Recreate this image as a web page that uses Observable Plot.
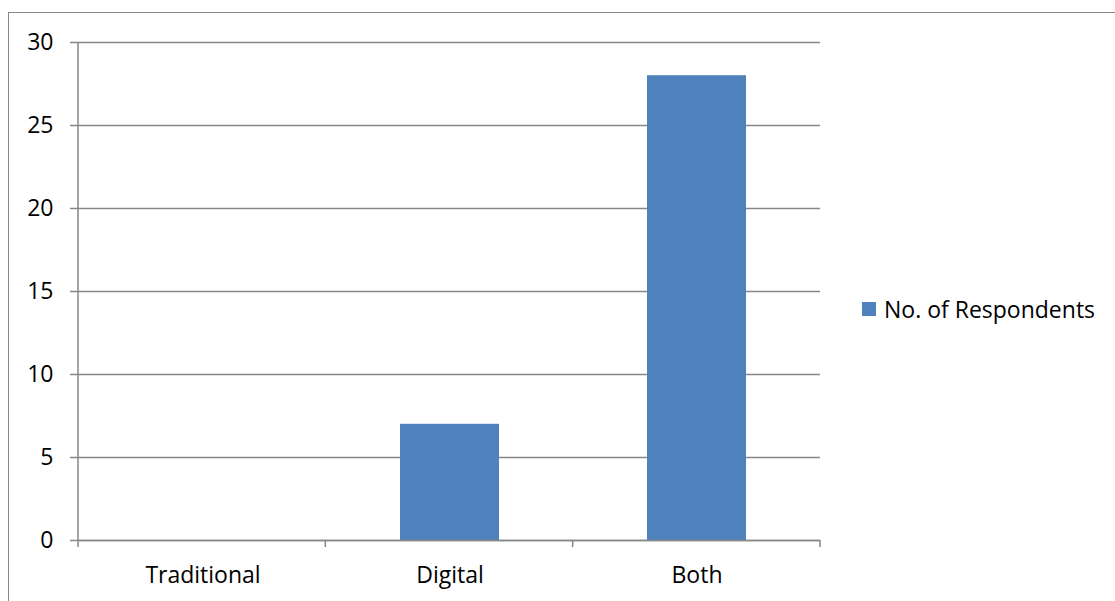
<!DOCTYPE html>
<html>
<head>
<meta charset="utf-8">
<script src="https://cdn.jsdelivr.net/npm/d3@7"></script>
<script src="https://cdn.jsdelivr.net/npm/@observablehq/plot@0.6"></script>
<style>
  html, body { margin: 0; padding: 0; background: #fff; overflow: hidden; }
  #wrap { position: relative; width: 1115px; height: 601px; }
  #frame { position: absolute; left: 8px; top: 12px; width: 1200px; height: 700px;
           border-left: 1.5px solid #888; border-top: 1.5px solid #888; box-sizing: border-box; }
  #chart { position: absolute; left: 0; top: 0; }
  #legend { position: absolute; left: 862px; top: 293px; display: flex; align-items: center;
            font-family: "Open Sans", sans-serif; font-size: 23px; color: #000; }
  #legend .sw { width: 14px; height: 14px; background: #4F81BD; margin-right: 8px; }
</style>
</head>
<body>
<div id="wrap">
  <div id="frame"></div>
  <div id="chart"></div>
  <div id="legend"><span class="sw"></span><span>No. of Respondents</span></div>
</div>
<script>
const categories = ["Traditional", "Digital", "Both"];
const respondents = [0, 7, 28];
const yTicks = [0, 5, 10, 15, 20, 25, 30];
const seriesName = "No. of Respondents";

const data = categories.map((c, i) => ({category: c, value: respondents[i]}));
const gridColor = "#878787";

// category boundary ticks and the vertical value axis line, placed from the chart frame
const frameLines = (index, scales, values, dim) => {
  const x0 = dim.marginLeft, x1 = dim.width - dim.marginRight;
  const yt = dim.marginTop, yb = dim.height - dim.marginBottom;
  const n = categories.length;
  const g = d3.create("svg:g");
  g.append("line").attr("x1", x0).attr("x2", x0).attr("y1", yt).attr("y2", yb)
    .attr("stroke", gridColor).attr("stroke-width", 1.5);
  for (let i = 0; i <= n; i++) {
    const x = x0 + (x1 - x0) * i / n;
    g.append("line").attr("x1", x).attr("x2", x).attr("y1", yb).attr("y2", yb + 7)
      .attr("stroke", gridColor).attr("stroke-width", 1.5);
  }
  return g.node();
};

const chart = Plot.plot({
  width: 1115,
  height: 601,
  marginLeft: 78,
  marginRight: 295,
  marginTop: 42,
  marginBottom: 61,
  style: {fontFamily: "'Open Sans', sans-serif", fontSize: "23px", color: "#000", background: "transparent"},
  x: {domain: categories, paddingInner: 0.6, paddingOuter: 0.3, label: null},
  y: {domain: [0, 30], label: null},
  marks: [
    Plot.ruleY(yTicks, {stroke: gridColor, strokeWidth: 1.5}),
    Plot.axisY(yTicks, {tickSize: 8, tickPadding: 17, stroke: gridColor, strokeWidth: 1.5, fontSize: 23, label: null}),
    Plot.barY(data, {x: "category", y: "value", fill: "#4F81BD", title: d => `${seriesName}: ${d.value}`}),
    Plot.axisX({tickSize: 0, tickPadding: 26, fontSize: 23, label: null}),
    Plot.ruleY([0], {stroke: gridColor, strokeWidth: 1.5}),
    frameLines
  ]
});
document.getElementById("chart").appendChild(chart);
</script>
</body>
</html>
